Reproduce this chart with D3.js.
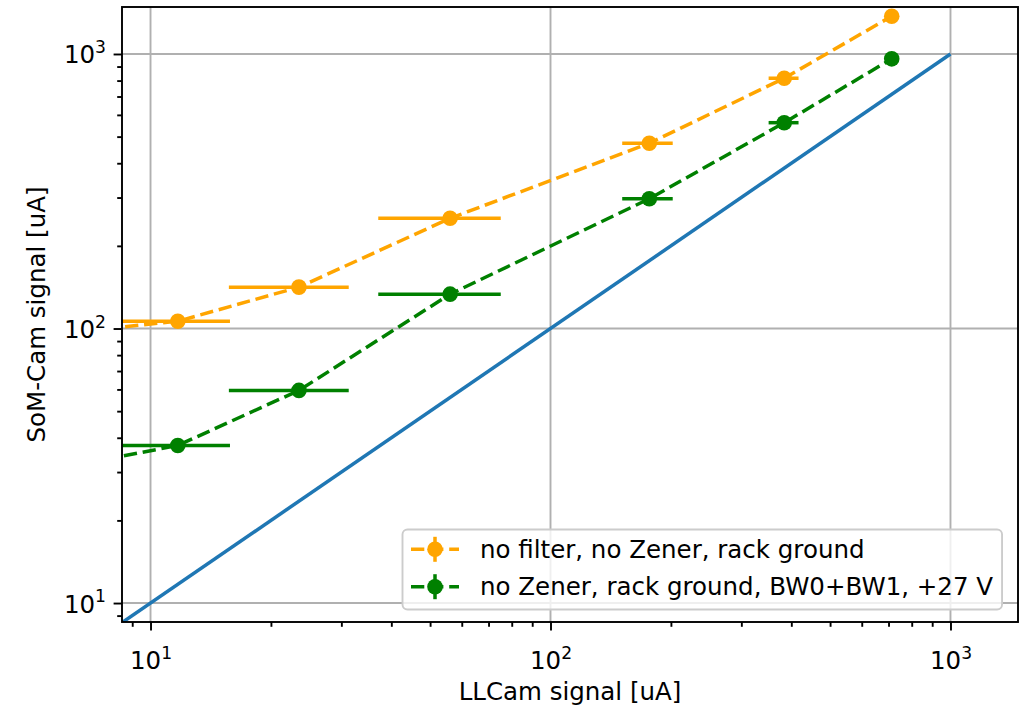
<!DOCTYPE html>
<html>
<head>
<meta charset="utf-8">
<script src="https://cdn.jsdelivr.net/npm/d3@7"></script>
<style>
  body { margin: 0; background: #fff; }
  svg { display: block; }
  text { font-family: "DejaVu Sans", sans-serif; }
</style>
</head>
<body>
<svg id="chart" width="1031" height="709"></svg>
<script>
// ---------------- data ----------------
// first entry lies left of the visible range (only its connecting dash is visible)
const llcamSignal   = [5, 11.7, 23.5, 56.1, 176.6, 384, 713];
const llcamErr      = [0, 4.1, 7.8, 19, 25.5, 33, 0];
const somNoFilter   = [93.4, 106.3, 141.5, 252, 473, 816, 1373];
const somBW         = [29.6, 37.5, 59.5, 133.4, 297, 562, 960];
const identityX     = [1, 1000];
const identityY     = [1, 1000];
const seriesLabels  = ["no filter, no Zener, rack ground", "no Zener, rack ground, BW0+BW1, +27 V"];
const seriesColors  = ["#FFA500", "#008000"];
const majorTicks    = [10, 100, 1000];
const tickExponents = ["1", "2", "3"];
const xLabel = "LLCam signal [uA]";
const yLabel = "SoM-Cam signal [uA]";

// ---------------- layout ----------------
const L = 122, R = 1018, T = 7, B = 622;
const FS = 24.5;
const MR = 7.8;
const svg = d3.select("#chart");
const x = d3.scaleLog().domain([8.486, 1475]).range([L, R]);
const y = d3.scaleLog().domain([8.53, 1483]).range([B, T]);

const minorTicks = [];
for (let e = 0; e <= 3; e++) for (let m = 2; m <= 9; m++) minorTicks.push(m * Math.pow(10, e));
const minorX = minorTicks.filter(v => v >= x.domain()[0] && v <= x.domain()[1]);
const minorY = minorTicks.filter(v => v >= y.domain()[0] && v <= y.domain()[1]);

svg.append("rect").attr("width", 1031).attr("height", 709).attr("fill", "#fff");

svg.append("defs").append("clipPath").attr("id", "plotclip")
  .append("rect").attr("x", L).attr("y", T).attr("width", R - L).attr("height", B - T);

// grid
const grid = svg.append("g");
grid.selectAll(".gx").data(majorTicks).join("line")
  .attr("x1", d => x(d)).attr("x2", d => x(d)).attr("y1", T).attr("y2", B)
  .attr("stroke", "#b0b0b0").attr("stroke-width", 1.9);
grid.selectAll(".gy").data(majorTicks).join("line")
  .attr("y1", d => y(d)).attr("y2", d => y(d)).attr("x1", L).attr("x2", R)
  .attr("stroke", "#b0b0b0").attr("stroke-width", 1.9);

// data
const plot = svg.append("g").attr("clip-path", "url(#plotclip)");
const line = d3.line().x(d => x(d[0])).y(d => y(d[1]));

plot.append("path")
  .attr("d", line(identityX.map((v, i) => [v, identityY[i]])))
  .attr("fill", "none").attr("stroke", "#1f77b4").attr("stroke-width", 3.5);

[somNoFilter, somBW].forEach((ys, s) => {
  const col = seriesColors[s];
  const pts = llcamSignal.map((v, i) => [v, ys[i]]);
  plot.append("path").attr("d", line(pts))
    .attr("fill", "none").attr("stroke", col).attr("stroke-width", 3.5)
    .attr("stroke-dasharray", "13.3,5.8");
  plot.selectAll(null).data(pts.map((p, i) => [p[0], p[1], llcamErr[i]]).filter(d => d[2] > 0))
    .join("line")
    .attr("x1", d => x(Math.max(d[0] - d[2], 1e-3))).attr("x2", d => x(d[0] + d[2]))
    .attr("y1", d => y(d[1])).attr("y2", d => y(d[1]))
    .attr("stroke", col).attr("stroke-width", 3.5);
  plot.selectAll(null).data(pts).join("circle")
    .attr("cx", d => x(d[0])).attr("cy", d => y(d[1])).attr("r", MR)
    .attr("fill", col);
});

// axes
function supLabel(sel, i) {
  sel.text(null);
  sel.append("tspan").text("10");
  sel.append("tspan").attr("font-size", FS * 0.7).attr("dy", -FS * 0.42).text(tickExponents[i]);
}

const xAxis = svg.append("g").attr("transform", `translate(0,${B})`)
  .call(d3.axisBottom(x).tickValues(majorTicks).tickSize(8.4).tickPadding(8).tickFormat(() => ""));
const xMinor = svg.append("g").attr("transform", `translate(0,${B})`)
  .call(d3.axisBottom(x).tickValues(minorX).tickSize(4.8).tickFormat(() => ""));
const yAxis = svg.append("g").attr("transform", `translate(${L},0)`)
  .call(d3.axisLeft(y).tickValues(majorTicks).tickSize(8.4).tickPadding(8).tickFormat(() => ""));
const yMinor = svg.append("g").attr("transform", `translate(${L},0)`)
  .call(d3.axisLeft(y).tickValues(minorY).tickSize(4.8).tickFormat(() => ""));
[xAxis, xMinor, yAxis, yMinor].forEach(g => {
  g.select(".domain").remove();
  g.selectAll(".tick line").attr("stroke", "#000").attr("stroke-width", 1.9);
});
xAxis.selectAll(".tick text")
  .attr("y", 47).attr("dy", null).attr("fill", "#000").attr("font-size", FS)
  .attr("font-family", "DejaVu Sans")
  .each(function(d, i) { supLabel(d3.select(this), i); });
yAxis.selectAll(".tick text")
  .attr("x", -16).attr("dy", null).attr("y", 9).attr("fill", "#000").attr("font-size", FS)
  .attr("font-family", "DejaVu Sans")
  .each(function(d, i) { supLabel(d3.select(this), i); });

// frame
svg.append("rect").attr("x", L).attr("y", T).attr("width", R - L).attr("height", B - T)
  .attr("fill", "none").attr("stroke", "#000").attr("stroke-width", 1.9);

// axis labels
svg.append("text").attr("x", (L + R) / 2).attr("y", 700).attr("text-anchor", "middle")
  .attr("font-size", FS).attr("fill", "#000").text(xLabel);
svg.append("text").attr("transform", `translate(45,${(T + B) / 2}) rotate(-90)`)
  .attr("text-anchor", "middle").attr("font-size", FS).attr("fill", "#000").text(yLabel);

// legend
const lg = svg.append("g");
const box = lg.append("rect").attr("x", 402.5).attr("y", 529.5).attr("height", 80)
  .attr("rx", 5).attr("fill", "#fff").attr("fill-opacity", 0.8)
  .attr("stroke", "#cccccc").attr("stroke-width", 1.9);
const rowY = [549.3, 586.7];
let maxW = 0;
seriesLabels.forEach((lab, i) => {
  const col = seriesColors[i];
  const cy = rowY[i];
  lg.append("line").attr("x1", 411).attr("x2", 459).attr("y1", cy).attr("y2", cy)
    .attr("stroke", col).attr("stroke-width", 3.5).attr("stroke-dasharray", "13.3,5.8");
  lg.append("line").attr("x1", 435).attr("x2", 435).attr("y1", cy - 12.5).attr("y2", cy + 12.5)
    .attr("stroke", col).attr("stroke-width", 3.5);
  lg.append("circle").attr("cx", 435).attr("cy", cy).attr("r", MR).attr("fill", col);
  const t = lg.append("text").attr("x", 480).attr("y", cy + 8.7).attr("font-size", FS)
    .attr("fill", "#000").text(lab);
  maxW = Math.max(maxW, t.node().getComputedTextLength());
});
box.attr("width", Math.min(480 + maxW + 9 - 402.5, R - 10 - 402.5));
</script>
</body>
</html>
